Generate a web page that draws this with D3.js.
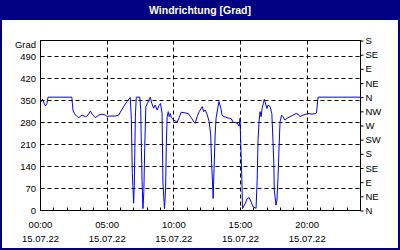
<!DOCTYPE html>
<html>
<head>
<meta charset="utf-8">
<script src="https://cdn.jsdelivr.net/npm/d3@7"></script>
<style>
    body { margin: 0; background: #fff; }
    svg { display: block; }
</style>
</head>
<body>
<script>
// minutes since 00:00 on 15.07.22
var minutes = [0, 4, 9, 18, 22, 29, 34, 141, 146, 153, 158, 165, 172, 187, 202, 210, 225, 232, 247, 262,
    277, 292, 300, 307, 322, 337, 352, 359, 374, 389, 404, 409, 413, 416, 419, 422, 427, 431, 447, 451,
    454, 457, 461, 465, 469, 474, 481, 494, 501, 509, 516, 525, 533, 540, 547, 551, 558, 563, 566, 570,
    575, 579, 584, 588, 599, 606, 615, 624, 633, 651, 665, 678, 692, 696, 705, 714, 728, 734, 741, 750,
    759, 766, 770, 774, 777, 781, 786, 790, 803, 812, 817, 826, 840, 849, 858, 867, 880, 889, 894, 898,
    901, 906, 909, 921, 930, 939, 948, 957, 970, 975, 979, 984, 988, 993, 997, 1003, 1007, 1010, 1019, 1024,
    1033, 1041, 1046, 1050, 1052, 1060, 1064, 1069, 1073, 1078, 1085, 1091, 1100, 1109, 1123, 1136, 1150, 1159, 1168, 1181,
    1195, 1208, 1222, 1235, 1242, 1249, 1440];

// wind direction in degrees
var degrees = [344, 346, 353, 338, 332, 340, 360, 360, 319, 308, 303, 298, 295, 303, 298, 300, 316, 306, 295, 303,
    306, 303, 298, 300, 300, 300, 303, 312, 330, 346, 359, 290, 120, 75, 23, 80, 300, 360, 360, 320,
    200, 96, 6, 60, 200, 330, 340, 360, 340, 325, 335, 319, 333, 340, 309, 87, 6, 71, 202, 298,
    314, 298, 308, 296, 287, 285, 280, 295, 312, 310, 308, 295, 280, 277, 298, 314, 330, 314, 319, 305,
    282, 240, 150, 91, 38, 134, 240, 293, 346, 324, 303, 298, 295, 293, 292, 280, 279, 274, 268, 293,
    214, 103, 6, 22, 38, 41, 27, 11, 7, 96, 224, 287, 314, 298, 324, 340, 353, 346, 324, 335,
    330, 308, 224, 150, 65, 17, 33, 107, 192, 282, 303, 298, 287, 293, 298, 303, 308, 306, 298, 303,
    306, 308, 306, 308, 310, 360, 360];

var gradTicks = [0, 70, 140, 210, 280, 350, 420, 490];
var compassTicks = [0, 45, 90, 135, 180, 225, 270, 315, 360, 405, 450, 495, 540];
var compassLabels = ['N', 'NE', 'E', 'SE', 'S', 'SW', 'W', 'NW', 'N', 'NE', 'E', 'SE', 'S'];
var hourTicks = d3.range(0, 25);
var timeLabels = ['00:00', '05:00', '10:00', '15:00', '20:00'];
var dateLabel = '15.07.22';
var title = 'Windrichtung [Grad]';
var unit = 'Grad';

var Chart = {
    init: function () {
        var self = this;

        self.width = 400;
        self.height = 250;
        self.font = '"Liberation Sans", Arial, sans-serif';
        self.navy = '#000080';

        self.svg = d3.select('body').append('svg')
            .attr('width', self.width)
            .attr('height', self.height);

        self.x = d3.scaleLinear().domain([0, 24 * 60]).range([40.5, 360.5]);
        self.y = d3.scaleLinear().domain([0, 540]).range([210.5, 40.5]);

        self.drawFrame();
        self.drawGrid();
        self.drawAxes();
        self.drawLine();
    },
    px: function (v) {
        return Math.round(v - 0.5) + 0.5;
    },
    drawFrame: function () {
        var self = this, svg = self.svg;

        svg.append('rect').attr('x', 0).attr('y', 0)
            .attr('width', self.width).attr('height', self.height)
            .attr('fill', self.navy);
        svg.append('rect').attr('x', 2).attr('y', 20)
            .attr('width', self.width - 4).attr('height', self.height - 22)
            .attr('fill', '#fff');

        svg.append('text')
            .attr('x', self.width / 2).attr('y', 10)
            .attr('text-anchor', 'middle').attr('dominant-baseline', 'central')
            .attr('font-family', self.font).attr('font-size', '10.5px').attr('font-weight', 'bold')
            .attr('fill', '#fff')
            .text(title);
    },
    drawGrid: function () {
        var self = this, svg = self.svg, x = self.x, y = self.y;
        var g = svg.append('g').attr('stroke', '#000').attr('stroke-dasharray', '4,3');

        g.selectAll('line.h').data(gradTicks.filter(function (d) { return d > 0; }))
            .enter().append('line')
            .attr('x1', x.range()[0]).attr('x2', x.range()[1])
            .attr('y1', function (d) { return self.px(y(d)); })
            .attr('y2', function (d) { return self.px(y(d)); });

        g.selectAll('line.v').data([5, 10, 15, 20])
            .enter().append('line')
            .attr('y1', y.range()[1]).attr('y2', y.range()[0])
            .attr('x1', function (d) { return self.px(x(d * 60)); })
            .attr('x2', function (d) { return self.px(x(d * 60)); });

        svg.append('rect')
            .attr('x', x.range()[0]).attr('y', y.range()[1])
            .attr('width', x.range()[1] - x.range()[0])
            .attr('height', y.range()[0] - y.range()[1])
            .attr('fill', 'none').attr('stroke', '#000');
    },
    drawAxes: function () {
        var self = this, svg = self.svg, x = self.x, y = self.y;
        var txt = function (sel) {
            sel.attr('font-family', self.font).attr('font-size', '9.5px').attr('fill', '#000');
        };

        // hour ticks, pointing into the plot
        svg.append('g').selectAll('line').data(hourTicks).enter().append('line')
            .attr('x1', function (d) { return self.px(x(d * 60)); })
            .attr('x2', function (d) { return self.px(x(d * 60)); })
            .attr('y1', y.range()[0]).attr('y2', y.range()[0] - 3)
            .attr('stroke', '#000');

        svg.append('g').selectAll('text').data(gradTicks).enter().append('text')
            .call(txt)
            .attr('x', 36).attr('y', function (d) { return y(d); })
            .attr('text-anchor', 'end').attr('dominant-baseline', 'central')
            .text(function (d) { return d; });

        svg.append('text').call(txt)
            .attr('x', 36).attr('y', 44.5)
            .attr('text-anchor', 'end').attr('dominant-baseline', 'central')
            .text(unit);

        var right = d3.axisRight(y)
            .tickValues(compassTicks)
            .tickSize(3).tickSizeOuter(0)
            .tickFormat(function (d, i) { return compassLabels[i]; });

        var gr = svg.append('g').attr('transform', 'translate(360.5,0)').call(right);
        gr.select('.domain').remove();
        gr.selectAll('.tick line').attr('stroke', '#000');
        gr.selectAll('.tick text').call(txt).attr('x', 5);

        var labelled = svg.append('g').selectAll('g').data(timeLabels).enter().append('g')
            .attr('transform', function (d, i) { return 'translate(' + x(i * 5 * 60) + ',0)'; });
        labelled.append('text').call(txt)
            .attr('y', 224.5).attr('text-anchor', 'middle').attr('dominant-baseline', 'central')
            .text(function (d) { return d; });
        labelled.append('text').call(txt)
            .attr('y', 238).attr('text-anchor', 'middle').attr('dominant-baseline', 'central')
            .text(dateLabel);
    },
    drawLine: function () {
        var self = this;
        var line = d3.line()
            .x(function (d, i) { return self.x(minutes[i]); })
            .y(function (d) { return self.y(d); });

        self.svg.append('path')
            .datum(degrees)
            .attr('d', line)
            .attr('fill', 'none')
            .attr('stroke', '#0000ff')
            .attr('stroke-width', 1);
    }
};

Chart.init();
</script>
</body>
</html>
